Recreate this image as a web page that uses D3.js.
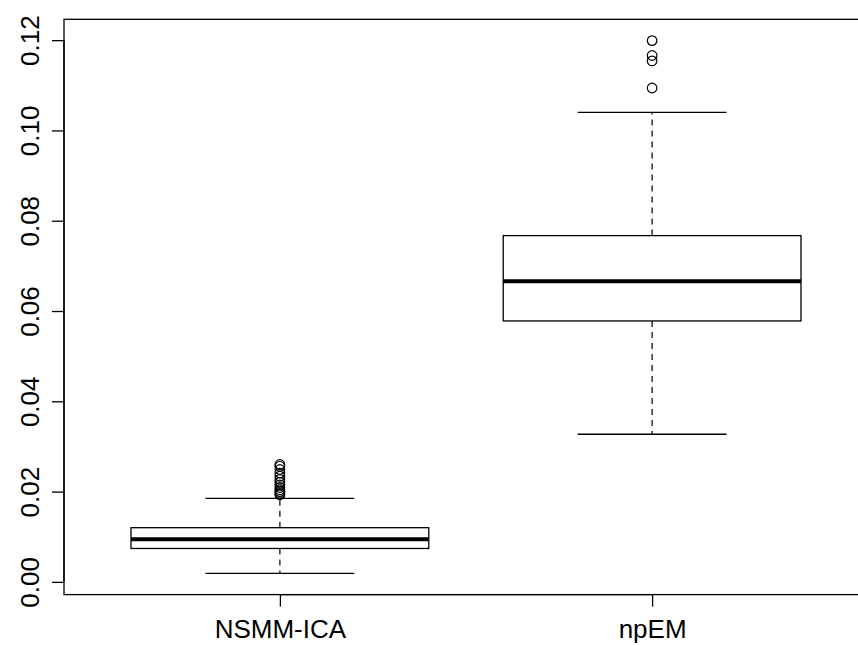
<!DOCTYPE html>
<html>
<head lang="en">
    <meta charset="UTF-8">
    <title></title>
    <script src="https://cdn.jsdelivr.net/npm/d3@7"></script>
    <style>
        body { margin: 0; background: #fff; }
        text { font-family: "Liberation Sans", Arial, sans-serif; }
    </style>
</head>
<body>
<div id="main"></div>
<script>
    // boxplot summaries
    var groups = ["NSMM-ICA", "npEM"];
    var lowWhisker = [0.0019, 0.0327];
    var q1 = [0.0074, 0.0578];
    var medians = [0.00945, 0.0666];
    var q3 = [0.0120, 0.0767];
    var highWhisker = [0.0185, 0.1040];
    var outliers = [
        [0.0260, 0.0256, 0.0249, 0.0241, 0.0234, 0.0227, 0.0221, 0.0215, 0.0209, 0.0204, 0.0200, 0.0196, 0.0193],
        [0.1199, 0.1166, 0.1154, 0.1094]
    ];
    var yTicks = [0, 0.02, 0.04, 0.06, 0.08, 0.10, 0.12];

    var W = 858, H = 645;
    var plotLeft = 64, plotTop = 19.3, plotRight = 868, plotBottom = 594.6;
    var fontSize = 26;

    var svg = d3.select("#main").append("svg")
            .attr("width", W)
            .attr("height", H);

    // R style: range padded by 4%
    var ymin = d3.min(lowWhisker), ymax = d3.max(outliers.map(function(o){ return d3.max(o); }));
    var pad = (ymax - ymin) * 0.04;
    var y = d3.scaleLinear().domain([ymin - pad, ymax + pad]).range([plotBottom, plotTop]);
    var x = d3.scaleLinear().domain([0.42, 2.58]).range([plotLeft, plotRight]);

    // frame
    svg.append("rect")
            .attr("x", plotLeft).attr("y", plotTop)
            .attr("width", plotRight - plotLeft).attr("height", plotBottom - plotTop)
            .attr("fill", "none").attr("stroke", "#000").attr("stroke-width", 1.3);

    // y axis
    var yAxis = svg.append("g")
            .attr("transform", "translate(" + plotLeft + ",0)")
            .call(d3.axisLeft(y).tickValues(yTicks).tickSize(12).tickFormat(d3.format(".2f")));
    yAxis.select(".domain").attr("d", "M0," + y(0) + "V" + y(0.12)).attr("stroke-width", 1.3);
    yAxis.selectAll(".tick line").attr("stroke-width", 1.3);
    yAxis.selectAll(".tick text")
            .attr("font-size", fontSize)
            .attr("font-family", "Liberation Sans, Arial, sans-serif")
            .attr("fill", "#000")
            .attr("text-anchor", "middle")
            .attr("dy", 0)
            .attr("x", 0)
            .attr("transform", "translate(-25,0) rotate(-90)");

    // x axis
    var xAxis = svg.append("g")
            .attr("transform", "translate(0," + plotBottom + ")")
            .call(d3.axisBottom(x).tickValues([1, 2]).tickSize(12).tickFormat(function(d){ return groups[d - 1]; }));
    xAxis.select(".domain").attr("d", "M" + x(1) + ",0H" + x(2)).attr("stroke-width", 1.3);
    xAxis.selectAll(".tick line").attr("stroke-width", 1.3);
    xAxis.selectAll(".tick text")
            .attr("font-size", fontSize)
            .attr("font-family", "Liberation Sans, Arial, sans-serif")
            .attr("fill", "#000")
            .attr("dy", 0)
            .attr("y", 43);

    var boxHalf = 0.4, stapleHalf = 0.2;
    var g = svg.append("g").attr("fill", "none").attr("stroke", "#000");

    groups.forEach(function(name, i){
        var cx = i + 1;
        // whiskers
        g.append("line")
                .attr("x1", x(cx)).attr("x2", x(cx))
                .attr("y1", y(q3[i])).attr("y2", y(highWhisker[i]))
                .attr("stroke-width", 1.2).attr("stroke-dasharray", "6,5");
        g.append("line")
                .attr("x1", x(cx)).attr("x2", x(cx))
                .attr("y1", y(q1[i])).attr("y2", y(lowWhisker[i]))
                .attr("stroke-width", 1.2).attr("stroke-dasharray", "6,5");
        // staples
        [lowWhisker[i], highWhisker[i]].forEach(function(v){
            g.append("line")
                    .attr("x1", x(cx - stapleHalf)).attr("x2", x(cx + stapleHalf))
                    .attr("y1", y(v)).attr("y2", y(v))
                    .attr("stroke-width", 1.3);
        });
        // box
        g.append("rect")
                .attr("x", x(cx - boxHalf))
                .attr("y", y(q3[i]))
                .attr("width", x(cx + boxHalf) - x(cx - boxHalf))
                .attr("height", y(q1[i]) - y(q3[i]))
                .attr("fill", "#fff")
                .attr("stroke-width", 1.3);
        // median
        g.append("line")
                .attr("x1", x(cx - boxHalf)).attr("x2", x(cx + boxHalf))
                .attr("y1", y(medians[i])).attr("y2", y(medians[i]))
                .attr("stroke-width", 4);
        // outliers
        g.selectAll(null)
                .data(outliers[i])
                .enter().append("circle")
                .attr("cx", x(cx))
                .attr("cy", function(d){ return y(d); })
                .attr("r", 4.8)
                .attr("stroke-width", 1.2);
    });
</script>
</body>
</html>
